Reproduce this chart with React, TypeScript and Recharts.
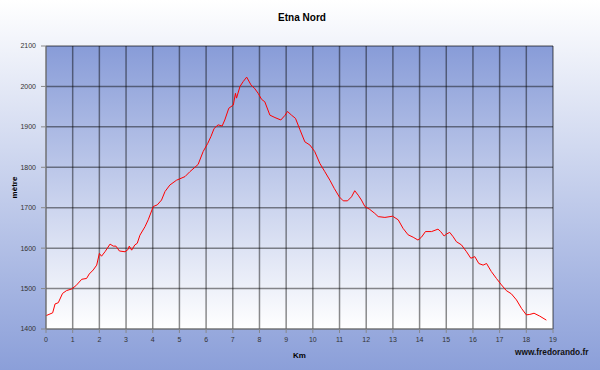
import React from 'react';
import { LineChart, Line, XAxis, YAxis, CartesianGrid, Label } from 'recharts';

const kmValues = [
  0, 0.25, 0.34, 0.46, 0.62, 0.77, 0.96, 1.12, 1.34, 1.52, 1.62, 1.77, 1.9, 2.0, 2.08, 2.21, 2.4, 2.52, 2.62, 2.75,
  2.96, 3.08, 3.12, 3.21, 3.33, 3.42, 3.52, 3.71, 3.83, 4.02, 4.17, 4.33, 4.46, 4.64, 4.89, 5.21, 5.39, 5.7, 5.89, 6.06,
  6.18, 6.3, 6.45, 6.6, 6.7, 6.85, 7.02, 7.1, 7.14, 7.27, 7.39, 7.52, 7.68, 7.83, 7.95, 8.08, 8.2, 8.39, 8.58, 8.8,
  8.95, 9.05, 9.2, 9.35, 9.51, 9.7, 9.89, 10.07, 10.26, 10.45, 10.64, 10.8, 10.99, 11.14, 11.3, 11.45, 11.57, 11.7, 11.82, 11.95,
  12.13, 12.32, 12.45, 12.7, 12.99, 13.2, 13.38, 13.57, 13.76, 13.94, 14.07, 14.22, 14.45, 14.69, 14.79, 14.92, 15.01, 15.13, 15.26, 15.38,
  15.57, 15.76, 15.92, 16.07, 16.22, 16.38, 16.51, 16.69, 16.88, 17.07, 17.25, 17.44, 17.63, 17.82, 18.0, 18.13, 18.29, 18.5, 18.75,
];

const elevationValues = [
  1433, 1440, 1462, 1465, 1488, 1495, 1499, 1507, 1523, 1525, 1536, 1546, 1558, 1587, 1580, 1591, 1610, 1605, 1605, 1593,
  1591, 1597, 1605, 1595, 1608, 1612, 1632, 1653, 1670, 1703, 1707, 1719, 1740, 1756, 1768, 1777, 1789, 1807, 1839, 1859,
  1876, 1896, 1905, 1902, 1917, 1946, 1954, 1983, 1971, 2000, 2012, 2023, 2004, 1994, 1983, 1968, 1962, 1929, 1923, 1917,
  1928, 1938, 1929, 1921, 1894, 1863, 1855, 1839, 1810, 1789, 1768, 1748, 1727, 1717, 1717, 1727, 1742, 1731, 1719, 1703,
  1696, 1686, 1678, 1676, 1679, 1670, 1649, 1633, 1627, 1620, 1627, 1641, 1641, 1647, 1641, 1630, 1635, 1639, 1628, 1616,
  1608, 1591, 1575, 1579, 1562, 1558, 1562, 1542, 1525, 1509, 1495, 1487, 1472, 1451, 1435, 1436, 1439, 1432, 1422,
];

const xTicks = [0, 1, 2, 3, 4, 5, 6, 7, 8, 9, 10, 11, 12, 13, 14, 15, 16, 17, 18, 19];
const yTicks = [1400, 1500, 1600, 1700, 1800, 1900, 2000, 2100];

const data = kmValues.map((km, i) => ({ km, alt: elevationValues[i] }));

const font = 'Arial, "Liberation Sans", sans-serif';

export default function App() {
  return (
    <div
      style={{
        position: 'absolute',
        left: 0,
        top: 0,
        width: 600,
        height: 370,
        overflow: 'hidden',
        background: 'linear-gradient(to bottom, #ffffff 0%, #8b9fd9 100%)',
        fontFamily: font,
      }}
    >
      <div
        style={{
          position: 'absolute',
          top: 12,
          left: 2,
          width: 600,
          textAlign: 'center',
          fontWeight: 'bold',
          fontSize: 10,
          color: '#000',
        }}
      >
        Etna Nord
      </div>
      <div
        style={{
          position: 'absolute',
          top: 347,
          left: 515,
          fontWeight: 'bold',
          fontSize: 8.3,
          color: '#111',
          whiteSpace: 'nowrap',
        }}
      >
        www.fredorando.fr
      </div>
      <LineChart
        width={600}
        height={370}
        data={data}
        margin={{ top: 46, right: 47, bottom: 0, left: 0 }}
        style={{ fontFamily: font }}
      >
        <defs>
          <linearGradient id="plotBg" x1="0" y1="0" x2="0" y2="1">
            <stop offset="0%" stopColor="#889cd8" />
            <stop offset="100%" stopColor="#ffffff" />
          </linearGradient>
        </defs>
        <CartesianGrid
          fill="url(#plotBg)"
          fillOpacity={1}
          stroke="#000"
          strokeOpacity={0.45}
          strokeWidth={1.5}
        />
        <XAxis
          dataKey="km"
          type="number"
          domain={[0, 19]}
          ticks={xTicks}
          interval={0}
          height={41}
          tickSize={4}
          tickMargin={4}
          tick={{ fontSize: 7, fill: '#333' }}
          tickLine={{ stroke: '#888' }}
          axisLine={{ stroke: '#888' }}
        >
          <Label
            value="Km"
            position="insideBottom"
            offset={12}
            style={{ fontSize: 8, fontWeight: 'bold', fill: '#000' }}
          />
        </XAxis>
        <YAxis
          type="number"
          domain={[1400, 2100]}
          ticks={yTicks}
          interval={0}
          width={46}
          tickSize={5}
          tickMargin={5}
          tick={{ fontSize: 7, fill: '#333' }}
          tickLine={{ stroke: '#888' }}
          axisLine={{ stroke: '#888' }}
        >
          <Label
            value="mètre"
            angle={-90}
            position="insideLeft"
            offset={14}
            style={{ fontSize: 8, fontWeight: 'bold', fill: '#000', textAnchor: 'middle' }}
          />
        </YAxis>
        <Line
          type="linear"
          dataKey="alt"
          stroke="#ff0000"
          strokeWidth={1}
          dot={false}
          isAnimationActive={false}
        />
      </LineChart>
    </div>
  );
}
